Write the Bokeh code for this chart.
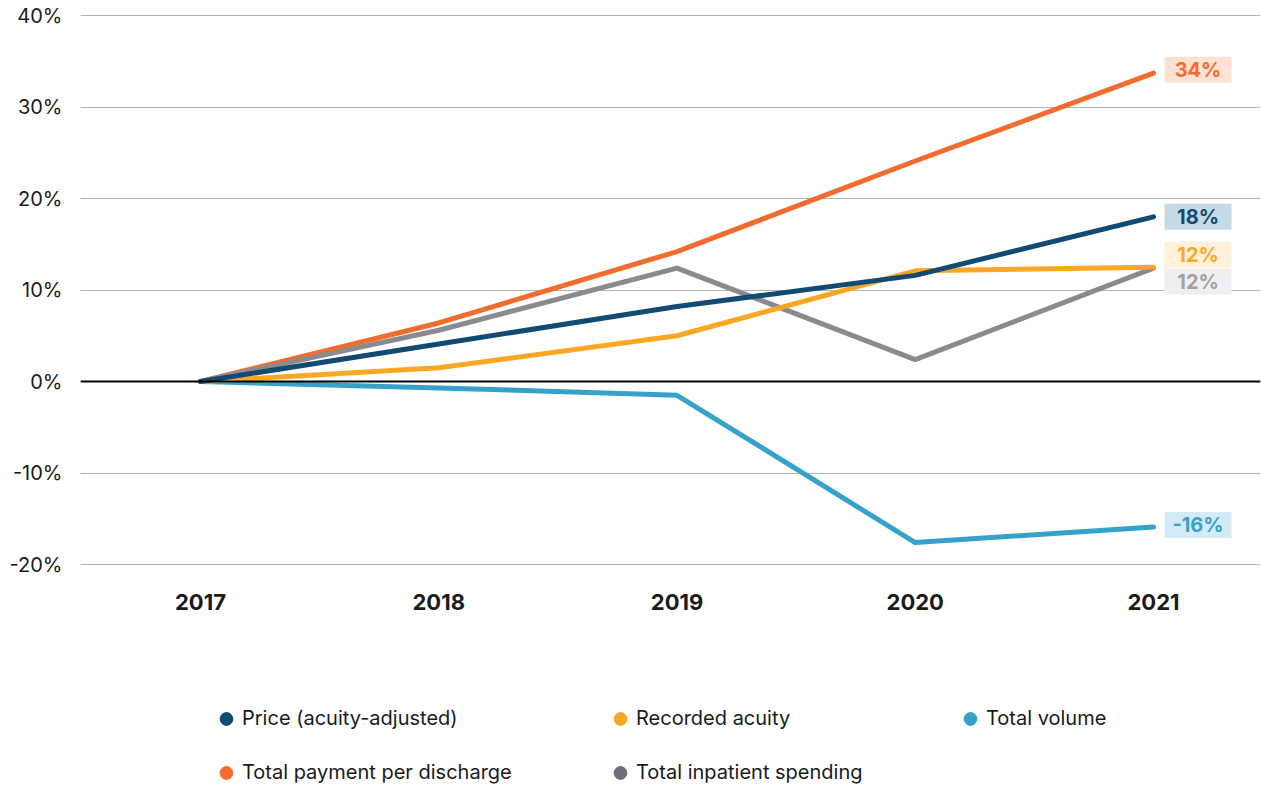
from bokeh.plotting import figure
from bokeh.layouts import column
from bokeh.models import (Range1d, FixedTicker, PrintfTickFormatter, Span, Legend,
                          LegendItem, ColumnDataSource)
from bokeh.transform import dodge
from bokeh.core.properties import value
from bokeh.embed import file_html
from bokeh.resources import INLINE

# ---- data (percent change since 2017) ----
years = [2017, 2018, 2019, 2020, 2021]
price = [0, 4.1, 8.2, 11.6, 18.0]
acuity = [0, 1.5, 5.0, 12.1, 12.5]
volume = [0, -0.7, -1.5, -17.6, -15.9]
payment = [0, 6.4, 14.2, 24.1, 33.7]
spending = [0, 5.6, 12.4, 2.4, 12.4]

series_names = ["Price (acuity-adjusted)", "Recorded acuity", "Total volume",
                "Total payment per discharge", "Total inpatient spending"]
y_ticks = [-20, -10, 0, 10, 20, 30, 40]

# ---- styles ----
FONT = "Inter"
colors = ["#114a73", "#faa824", "#37a2c9", "#f26c2f", "#8b8a90"]
legend_colors = ["#114a73", "#faa824", "#37a2c9", "#f26c2f", "#6e6d74"]
label_fills = ["#c4dbe6", "#fff0d9", "#d3ebf4", "#fde2d3", "#efeff0"]
label_text_colors = ["#114a73", "#faa824", "#37a2c9", "#f26c2f", "#a2a1a6"]
label_dy_px = [0, -12.5, -2, -3.5, 13.5]   # nudges of the end labels (screen px, + = down)
PPU = 9.135                                # pixels per percentage point

series = [price, acuity, volume, payment, spending]

p = figure(width=1261, height=680,
           x_range=Range1d(2016.4963, 2021.449), y_range=Range1d(-22.51, 40.22),
           output_backend="svg", toolbar_location=None,
           min_border_left=80, min_border_right=1, min_border_top=13, min_border_bottom=93)
p.outline_line_color = None
p.background_fill_color = "white"
p.border_fill_color = "white"

p.xgrid.grid_line_color = None
p.ygrid.ticker = FixedTicker(ticks=y_ticks)
p.ygrid.grid_line_color = "#b4b4b4"
p.ygrid.grid_line_width = 1

p.yaxis.ticker = FixedTicker(ticks=y_ticks)
p.yaxis.formatter = PrintfTickFormatter(format="%d%%")
p.xaxis.ticker = FixedTicker(ticks=years)
p.xaxis.formatter = PrintfTickFormatter(format="%d")
for ax in (p.xaxis, p.yaxis):
    ax.axis_line_color = None
    ax.major_tick_line_color = None
    ax.minor_tick_line_color = None
    ax.major_tick_out = 0
    ax.major_tick_in = 0
    ax.major_label_text_font = FONT
    ax.major_label_text_color = "#1a1a1a"
p.yaxis.major_label_text_font_size = "20px"
p.yaxis.major_label_standoff = 18
p.xaxis.major_label_text_font_size = "22px"
p.xaxis.major_label_text_font_style = "bold"
p.xaxis.major_label_standoff = 6

p.add_layout(Span(location=0, dimension="width", line_color="black", line_width=2))

# draw order: volume, payment, spending, acuity, price (price on top)
for i in [2, 3, 4, 1, 0]:
    p.line(years, series[i], line_width=5, line_color=colors[i],
           line_join="round", line_cap="round")

# end-of-line value labels
last = [s[-1] for s in series]
lab = ColumnDataSource(dict(
    x=[years[-1]] * len(series),
    y=[v - dy / PPU for v, dy in zip(last, label_dy_px)],
    text=[f"{round(v)}%" for v in last],
    fill=label_fills,
    color=label_text_colors,
))
p.rect(x=dodge("x", 0.1868, range=p.x_range), y="y", width=67, height=26,
       width_units="screen", height_units="screen",
       fill_color="fill", line_color=None, source=lab)
p.text(x=dodge("x", 0.1868, range=p.x_range), y="y", text="text",
       text_color="color", text_align="center", text_baseline="middle",
       text_font=value(FONT), text_font_style="bold", text_font_size="20px",
       source=lab)

# ---- legend strip below the chart ----
LEG_H = 105
pl = figure(width=1261, height=LEG_H, x_range=Range1d(0, 1), y_range=Range1d(0, 1),
            x_axis_location=None, y_axis_location=None,
            output_backend="svg", toolbar_location=None, min_border=0)
pl.outline_line_color = None
pl.grid.visible = False

# legend-only renderers: the series as dots, far outside this strip's ranges
dots = []
for s, c in zip(series, legend_colors):
    dots.append(pl.scatter(x=years, y=s, marker="circle", size=14,
                           fill_color=c, line_color=c))

# columns of the legend: (series indices, left px from frame, bottom px from frame)
legend_cols = [([0, 3], 130, -4.5), ([1, 4], 524, -4.5), ([2], 874, 49.5)]
for idx, lx, ly in legend_cols:
    leg = Legend(items=[LegendItem(label=series_names[i], renderers=[dots[i]]) for i in idx],
                 location=(lx, ly), orientation="vertical",
                 glyph_width=32, glyph_height=35, label_height=22,
                 label_standoff=0, spacing=19, padding=0, margin=0,
                 border_line_color=None, background_fill_alpha=0,
                 label_text_font=FONT, label_text_font_size="20px",
                 label_text_color="#1a1a1a")
    pl.add_layout(leg)

layout = column(p, pl, spacing=0)
open("out.html", "w").write(file_html(layout, INLINE))
